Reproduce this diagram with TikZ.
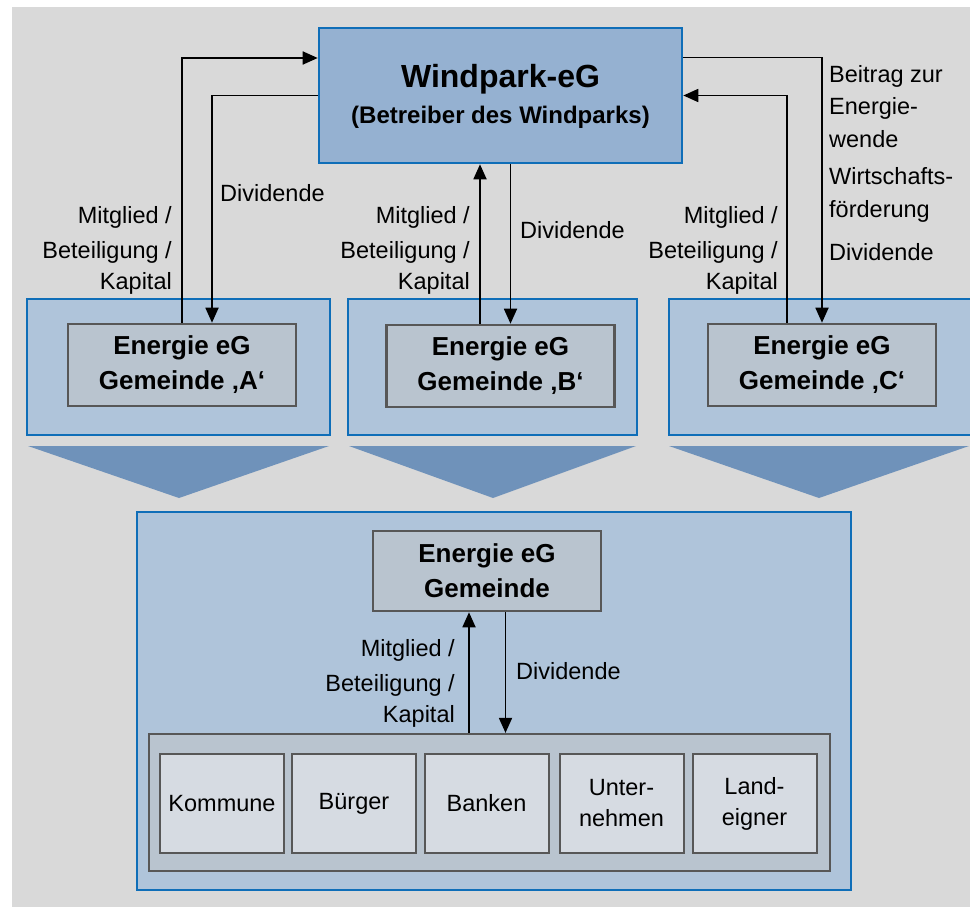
\documentclass[tikz,border=0pt]{standalone}
\usepackage{fontspec}
\setmainfont{Liberation Sans}
\usetikzlibrary{arrows.meta}

\definecolor{bggray}{HTML}{D9D9D9}
\definecolor{edgeblue}{HTML}{0F6EB8}
\definecolor{windfill}{HTML}{95B1D1}
\definecolor{panelfill}{HTML}{AFC4DA}
\definecolor{chevfill}{HTML}{6F92BA}
\definecolor{innerfill}{HTML}{B9C4CF}
\definecolor{memberfill}{HTML}{D6DBE2}
\definecolor{darkedge}{HTML}{575757}

\tikzset{
  panel/.style={draw=edgeblue, line width=2.6pt, fill=panelfill, inner sep=0pt},
  windbox/.style={draw=edgeblue, line width=2.6pt, fill=windfill, inner sep=0pt,
    align=center},
  egbox/.style={draw=darkedge, line width=2.6pt, fill=innerfill, inner sep=0pt,
    minimum width=228pt, minimum height=82pt, align=center,
    font=\fontsize{26}{35}\selectfont\bfseries},
  groupbox/.style={draw=darkedge, line width=2.2pt, fill=innerfill, inner sep=0pt},
  memberbox/.style={draw=darkedge, line width=2pt, fill=memberfill, inner sep=0pt,
    minimum width=124pt, minimum height=99pt, align=center,
    font=\fontsize{23.5}{31}\selectfont},
  chevron/.style={fill=chevfill, draw=none},
  flow/.style={line width=1.8pt, -{Triangle[length=15pt,width=13pt]}},
  plain/.style={line width=1.8pt},
  lbl/.style={inner sep=0pt, font=\fontsize{23.5}{31}\selectfont},
}

\begin{document}
\begin{tikzpicture}[x=1pt, y=-1pt]
  \useasboundingbox (0,0) rectangle (970,907);
  \begin{scope}
  \clip (0,0) rectangle (970,907);
  \fill[bggray] (12,7) rectangle (975,912);

  % operator of the wind farm
  \node[windbox, minimum width=363pt, minimum height=135pt] (wind) at (500.5,95.5) {};
  \node[inner sep=0pt, anchor=base, font=\fontsize{32}{38}\selectfont\bfseries]
    (windtitle) at (500.5,88) {Windpark-eG};
  \node[inner sep=0pt, anchor=base, font=\fontsize{24}{30}\selectfont\bfseries]
    (windsub) at (500.5,124) {(Betreiber des Windparks)};

  % municipal panels
  \node[panel, minimum width=303pt, minimum height=136pt] (panA) at (178.5,367) {};
  \node[panel, minimum width=289pt, minimum height=136pt] (panB) at (492.5,367) {};
  \node[panel, minimum width=320pt, minimum height=136pt] (panC) at (829,367) {};

  \node[egbox] (inA) at (182,365) {Energie eG\\Gemeinde ‚A‘};
  \node[egbox] (inB) at (500.5,366) {Energie eG\\Gemeinde ‚B‘};
  \node[egbox] (inC) at (822,365) {Energie eG\\Gemeinde ‚C‘};

  % chevrons pointing to the detail view
  \fill[chevron] (28,446) -- (329,446) -- (179,498) -- cycle;
  \fill[chevron] (349,446) -- (636,446) -- (493,498) -- cycle;
  \fill[chevron] (669,446) -- (969,446) -- (819,498) -- cycle;

  % detail of one municipal cooperative
  \node[panel, minimum width=714pt, minimum height=378pt] (detail) at (494,701) {};
  \node[egbox, minimum height=80pt] (gem) at (487,571) {Energie eG\\Gemeinde};
  \node[groupbox, minimum width=681pt, minimum height=137pt] (members) at (489.5,802.5) {};
  \node[memberbox] (kommune) at (222,803.5) {Kommune};
  \node[memberbox] (buerger) at (354,803.5) {Bürger};
  \node[memberbox] (banken) at (486.5,803.5) {Banken};
  \node[memberbox] (unternehmen) at (621.5,803.5) {Unter-\\nehmen};
  \node[memberbox] (landeigner) at (754.5,803.5) {Land-\\eigner};

  % flows between Gemeinde A and the wind farm
  \draw[flow] (inA.north) |- ([yshift=37.5pt]wind.west);
  \draw[flow] (wind.west) -| ([xshift=30pt]inA.north);
  % flows between Gemeinde B and the wind farm
  \draw[flow] ([xshift=-20.5pt]inB.north) -- ([xshift=-20.5pt]inB.north |- wind.south);
  \draw[flow] ([xshift=10pt]inB.north |- wind.south) -- ([xshift=10pt]inB.north);
  % flows between Gemeinde C and the wind farm
  \draw[flow] ([yshift=38pt]wind.east) -| (inC.north);
  \draw[flow] ([xshift=-35pt]inC.north) |- (wind.east);
  % flows inside the municipal cooperative
  \draw[flow] ([xshift=-18pt]gem.south |- members.north) -- ([xshift=-18pt]gem.south);
  \draw[flow] ([xshift=18.5pt]gem.south) -- ([xshift=18.5pt]gem.south |- members.north);

  % labels
  \node[lbl, anchor=north east, align=right] (capA) at (172,206)
    {Mitglied /\\[4pt]Beteiligung /\\Kapital};
  \node[lbl, anchor=north west] (divA) at (220,184) {Dividende};
  \node[lbl, anchor=north east, align=right] (capB) at (470,206)
    {Mitglied /\\[4pt]Beteiligung /\\Kapital};
  \node[lbl, anchor=north west] (divB) at (520,221) {Dividende};
  \node[lbl, anchor=north east, align=right] (capC) at (778,206)
    {Mitglied /\\[4pt]Beteiligung /\\Kapital};
  \node[lbl, anchor=north west, align=left, font=\fontsize{23.5}{32.5}\selectfont]
    (benefit) at (829,65)
    {Beitrag zur\\Energie-\\wende\\[5pt]Wirtschafts-\\förderung\\[11pt]Dividende};
  \node[lbl, anchor=north east, align=right] (capG) at (455,639)
    {Mitglied /\\[4pt]Beteiligung /\\Kapital};
  \node[lbl, anchor=north west] (divG) at (516,662) {Dividende};
  \end{scope}
\end{tikzpicture}
\end{document}
